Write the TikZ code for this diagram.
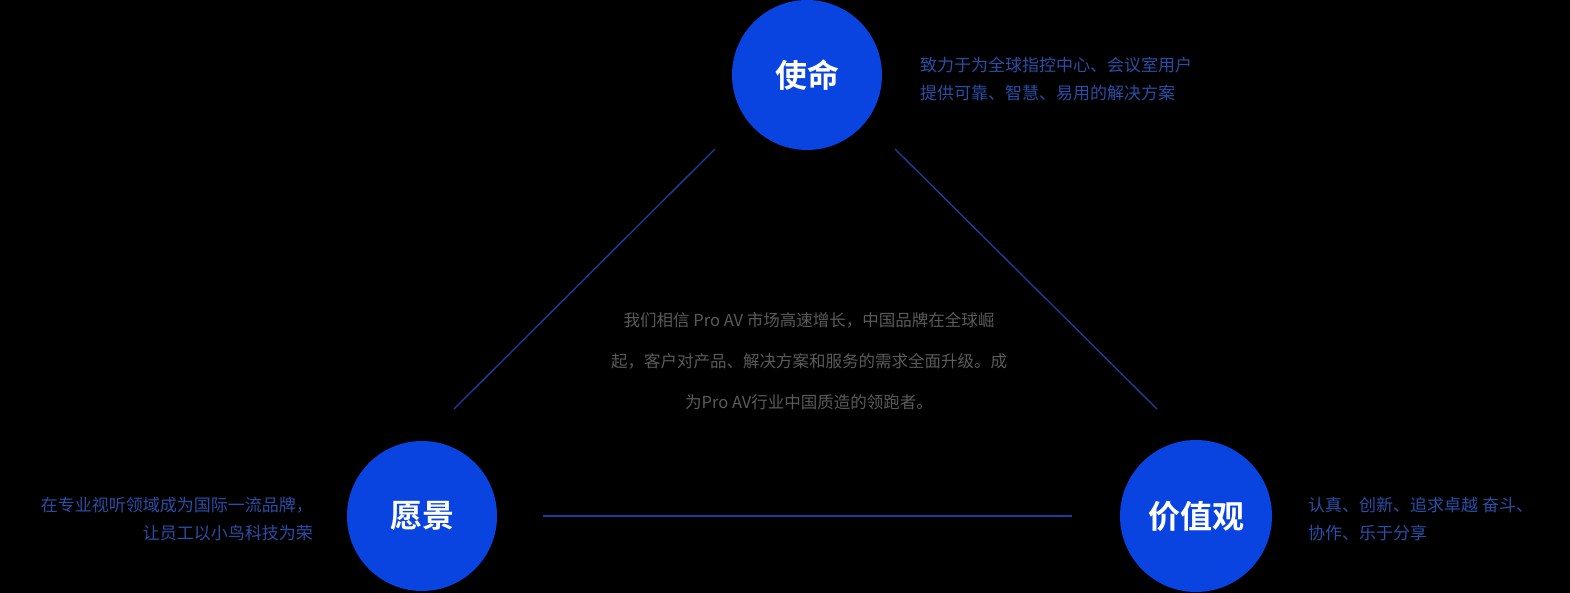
\documentclass[tikz,border=0pt]{standalone}
\usepackage{fontspec}
\setmainfont{Noto Sans CJK SC}
\newfontfamily\cjkb{Noto Sans CJK SC Bold}
\definecolor{circ}{HTML}{0A44E0}
\definecolor{ln}{HTML}{1E3E9E}
\definecolor{side}{HTML}{2A4EA6}
\definecolor{mid}{HTML}{5A5A5A}
\begin{document}
\begin{tikzpicture}[x=1pt,y=-1pt,
  circ/.style={circle,fill=circ,minimum size=150pt,inner sep=0pt,text=white,font=\cjkb\fontsize{32}{36}\selectfont},
  edge/.style={draw=ln,line width=1.3pt},
  side/.style={text=side,font=\fontsize{17}{28}\selectfont,align=left,inner sep=0pt},
  mid/.style={text=mid,font=\fontsize{16.5}{41}\selectfont,align=center,inner sep=0pt}]
\fill[black] (0,0) rectangle (1570,593);
\useasboundingbox (0,0) rectangle (1570,593);
\node[circ] (m) at (807,75) {使命};
\node[circ] (v) at (422,516) {愿景};
\node[circ,minimum size=152pt] (j) at (1196,516) {价值观};
\coordinate (a1) at (715,149); \coordinate (a2) at (454,409);
\coordinate (b1) at (895,149); \coordinate (b2) at (1157,409);
\coordinate (c1) at (543,516); \coordinate (c2) at (1072,516);
\draw[edge] (a1) -- (a2);
\draw[edge] (b1) -- (b2);
\draw[edge] (c1) -- (c2);
\node[side,anchor=west] (tm) at (920,79) {致力于为全球指控中心、会议室用户\\提供可靠、智慧、易用的解决方案};
\node[side,anchor=east,align=right] (tv) at (313,519) {在专业视听领域成为国际一流品牌，\\让员工以小鸟科技为荣};
\node[side,anchor=west] (tj) at (1308,519) {认真、创新、追求卓越 奋斗、\\协作、乐于分享};
\node[mid] (c) at (809,361) {我们相信 Pro AV 市场高速增长，中国品牌在全球崛\\起，客户对产品、解决方案和服务的需求全面升级。成\\为Pro AV行业中国质造的领跑者。};
\end{tikzpicture}
\end{document}
